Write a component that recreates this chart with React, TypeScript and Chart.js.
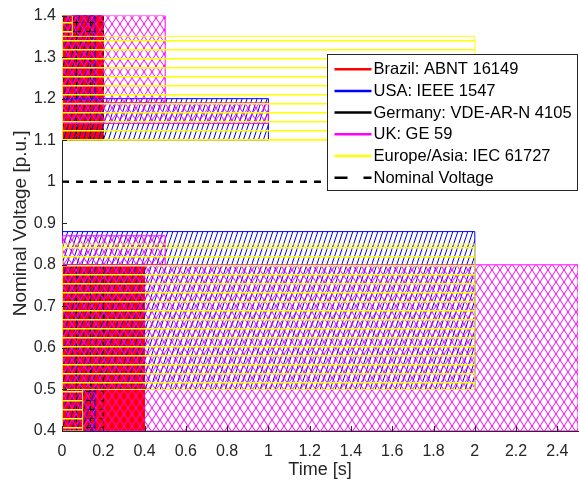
import React, { useEffect, useRef } from 'react';
import { Chart, registerables } from 'chart.js';

Chart.register(...registerables);

// Axis ticks
const xTicks = [0, 0.2, 0.4, 0.6, 0.8, 1, 1.2, 1.4, 1.6, 1.8, 2, 2.2, 2.4];
const yTicks = [0.4, 0.5, 0.6, 0.7, 0.8, 0.9, 1, 1.1, 1.2, 1.3, 1.4];
const xRange = [0, 2.5];
const yRange = [0.4, 1.4];

// Brazil: ABNT 16149 (trip time [s], voltage band [p.u.])
const brazilTime = [0.4, 0.2];
const brazilVLow = [0.4, 1.1];
const brazilVHigh = [0.8, 1.4];

// USA: IEEE 1547
const usaTime = [0.16, 2, 1, 0.16];
const usaVLow = [0.4, 0.5, 1.1, 1.2];
const usaVHigh = [0.5, 0.88, 1.2, 1.4];

// Germany: VDE-AR-N 4105
const germanyTime = [0.2, 0.2];
const germanyVLow = [0.4, 1.1];
const germanyVHigh = [0.8, 1.4];

// UK: GE 59
const ukTime = [2.5, 0.5, 1, 0.5];
const ukVLow = [0.4, 0.8, 1.14, 1.19];
const ukVHigh = [0.8, 0.87, 1.19, 1.4];

// Europe/Asia: IEC 61727
const europeTime = [0.1, 2, 2, 0.05];
const europeVLow = [0.4, 0.5, 1.1, 1.35];
const europeVHigh = [0.5, 0.85, 1.35, 1.4];

// Nominal voltage
const nominalTime = [0, 2.5];
const nominalVoltage = [1, 1];

const legendLabels = [
  'Brazil: ABNT 16149',
  'USA: IEEE 1547',
  'Germany: VDE-AR-N 4105',
  'UK: GE 59',
  'Europe/Asia: IEC 61727',
  'Nominal Voltage',
];
const legendColors = ['#ff0000', '#0000ff', '#000000', '#ff00ff', '#ffff00', '#000000'];

const FONT = '"Liberation Sans", Arial, Helvetica, sans-serif';
const AXIS_COLOR = '#262626';

function makePattern(w: number, h: number, draw: (g: CanvasRenderingContext2D, w: number, h: number) => void) {
  const c = document.createElement('canvas');
  c.width = w;
  c.height = h;
  const g = c.getContext('2d')!;
  draw(g, w, h);
  return g.createPattern(c, 'repeat')!;
}

function rectPoints(t: number, lo: number, hi: number) {
  return [
    { x: 0, y: lo },
    { x: t, y: lo },
    { x: t, y: hi },
    { x: 0, y: hi },
    { x: 0, y: lo },
  ];
}

const ticksPlugin = {
  id: 'inwardTicks',
  afterDraw(chart: any) {
    const { ctx, chartArea, scales } = chart;
    ctx.save();
    ctx.strokeStyle = AXIS_COLOR;
    ctx.lineWidth = 1;
    ctx.beginPath();
    for (const v of xTicks) {
      const px = Math.round(scales.x.getPixelForValue(v)) + 0.5;
      ctx.moveTo(px, chartArea.bottom);
      ctx.lineTo(px, chartArea.bottom - 5);
    }
    for (const v of yTicks) {
      const py = Math.round(scales.y.getPixelForValue(v)) + 0.5;
      ctx.moveTo(chartArea.left, py);
      ctx.lineTo(chartArea.left + 5, py);
    }
    ctx.stroke();
    ctx.restore();
  },
};

const legendPlugin = {
  id: 'boxLegend',
  afterDraw(chart: any) {
    const { ctx, chartArea } = chart;
    ctx.save();
    ctx.font = `16.5px ${FONT}`;
    const textW = Math.max(...legendLabels.map((l) => ctx.measureText(l).width));
    const padL = 7;
    const lineLen = 37;
    const gap = 2;
    const padR = 6;
    const rowH = 21.7;
    const w = padL + lineLen + gap + textW + padR;
    const h = 136;
    const right = chartArea.right - 0.5;
    const left = Math.round(right - w) + 0.5;
    const top = Math.round(chartArea.top + 38) + 0.5;
    ctx.fillStyle = '#ffffff';
    ctx.fillRect(left, top, right - left, h);
    ctx.strokeStyle = AXIS_COLOR;
    ctx.lineWidth = 1;
    ctx.strokeRect(left, top, right - left, h);
    legendLabels.forEach((label, i) => {
      const cy = top + 14.7 + i * rowH;
      ctx.strokeStyle = legendColors[i];
      ctx.lineWidth = 2.5;
      ctx.setLineDash(i === 5 ? [13, 16] : []);
      ctx.beginPath();
      ctx.moveTo(left + padL, cy);
      ctx.lineTo(left + padL + lineLen, cy);
      ctx.stroke();
      ctx.setLineDash([]);
      ctx.fillStyle = '#000000';
      ctx.textAlign = 'left';
      ctx.textBaseline = 'middle';
      ctx.fillText(label, left + padL + lineLen + gap, cy + 0.5);
    });
    ctx.restore();
  },
};

export default function App() {
  const canvasRef = useRef<HTMLCanvasElement | null>(null);

  useEffect(() => {
    document.body.style.margin = '0';
    const canvas = canvasRef.current;
    if (!canvas) return;

    const redFill = '#ff0000';
    const blueHatch = makePattern(5, 15, (g, w, h) => {
      g.strokeStyle = '#0000ff';
      g.lineWidth = 1;
      for (const dx of [-w, 0, w]) {
        g.beginPath();
        g.moveTo(dx, h);
        g.lineTo(dx + w, 0);
        g.stroke();
      }
    });
    const blackHatch = makePattern(14, 9, (g) => {
      g.fillStyle = '#000000';
      g.fillRect(2, 4, 9, 1);
      g.fillRect(6, 1, 1, 7);
    });
    const pinkHatch = makePattern(8, 12, (g, w, h) => {
      g.strokeStyle = '#ff00ff';
      g.lineWidth = 1;
      for (const dx of [-w, 0, w]) {
        g.beginPath();
        g.moveTo(dx, 0);
        g.lineTo(dx + w, h);
        g.moveTo(dx, h);
        g.lineTo(dx + w, 0);
        g.stroke();
      }
    });
    const yellowHatch = makePattern(4, 9, (g) => {
      g.fillStyle = '#ffff00';
      g.fillRect(0, 4, 4, 1.5);
    });

    const groups = [
      { time: brazilTime, lo: brazilVLow, hi: brazilVHigh, fill: redFill, edge: '#ff0000', dash: [] as number[] },
      { time: usaTime, lo: usaVLow, hi: usaVHigh, fill: blueHatch, edge: '#0000ff', dash: [] as number[] },
      { time: germanyTime, lo: germanyVLow, hi: germanyVHigh, fill: blackHatch, edge: '#000000', dash: [4, 3] },
      { time: ukTime, lo: ukVLow, hi: ukVHigh, fill: pinkHatch, edge: '#ff00ff', dash: [] as number[] },
      { time: europeTime, lo: europeVLow, hi: europeVHigh, fill: yellowHatch, edge: '#ffff00', dash: [] as number[] },
    ];

    const datasets: any[] = [];
    groups.forEach((gr) => {
      gr.time.forEach((t, i) => {
        datasets.push({
          data: rectPoints(t, gr.lo[i], gr.hi[i]),
          fill: 'shape',
          backgroundColor: gr.fill,
          borderColor: gr.edge,
          borderWidth: 1,
          borderDash: gr.dash,
          pointRadius: 0,
          pointHoverRadius: 0,
          tension: 0,
        });
      });
    });
    datasets.push({
      data: nominalTime.map((t, i) => ({ x: t, y: nominalVoltage[i] })),
      fill: false,
      borderColor: '#000000',
      borderWidth: 2.5,
      borderDash: [7, 7],
      pointRadius: 0,
      pointHoverRadius: 0,
      tension: 0,
    });
    // first dataset drawn first (bottom)
    datasets.forEach((d, i) => (d.order = -i));

    const chart = new Chart(canvas, {
      type: 'line',
      data: { datasets },
      plugins: [ticksPlugin, legendPlugin],
      options: {
        animation: false,
        responsive: true,
        maintainAspectRatio: false,
        events: [],
        layout: { padding: { top: 10, right: 2, left: 0, bottom: 0 } },
        plugins: {
          legend: { display: false },
          tooltip: { enabled: false },
        },
        scales: {
          x: {
            type: 'linear',
            min: xRange[0],
            max: xRange[1],
            z: 1,
            afterBuildTicks: (scale: any) => {
              scale.ticks = xTicks.map((v) => ({ value: v }));
            },
            afterFit: (scale: any) => {
              scale.height = 52;
            },
            grid: { display: true, drawOnChartArea: false, drawTicks: false },
            border: { display: true, color: AXIS_COLOR, width: 1 },
            ticks: {
              color: AXIS_COLOR,
              padding: 11,
              maxRotation: 0,
              autoSkip: false,
              font: { family: FONT, size: 16 },
              callback: (v: any) => String(+Number(v).toFixed(2)),
            },
            title: {
              display: true,
              text: 'Time [s]',
              color: AXIS_COLOR,
              font: { family: FONT, size: 18 },
              padding: { top: 0, bottom: 2 },
            },
          },
          y: {
            type: 'linear',
            min: yRange[0],
            max: yRange[1],
            z: 1,
            afterBuildTicks: (scale: any) => {
              scale.ticks = yTicks.map((v) => ({ value: v }));
            },
            afterFit: (scale: any) => {
              scale.width = 62;
            },
            grid: { display: true, drawOnChartArea: false, drawTicks: false },
            border: { display: true, color: AXIS_COLOR, width: 1 },
            ticks: {
              color: AXIS_COLOR,
              padding: 6,
              autoSkip: false,
              font: { family: FONT, size: 16 },
              callback: (v: any) => String(+Number(v).toFixed(2)),
            },
            title: {
              display: true,
              text: 'Nominal Voltage [p.u.]',
              color: AXIS_COLOR,
              font: { family: FONT, size: 19 },
              padding: { top: 9, bottom: 0 },
            },
          },
        },
      },
    });

    return () => {
      chart.destroy();
    };
  }, []);

  return (
    <div style={{ position: 'relative', width: '580px', height: '483px' }}>
      <canvas ref={canvasRef} />
    </div>
  );
}
